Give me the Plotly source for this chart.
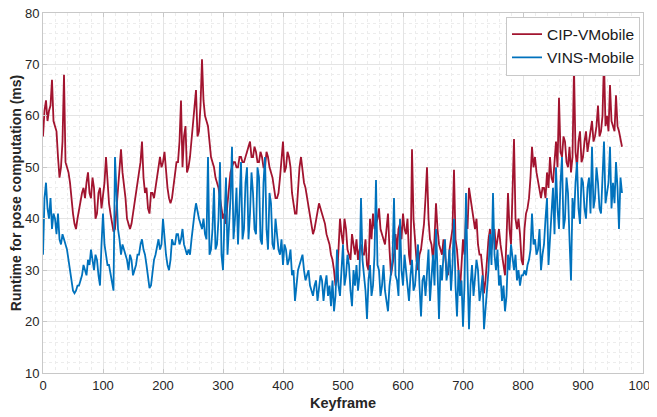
import plotly.graph_objects as go

# Runtime (ms), one reading every 2.5 keyframes
cip_vmobile = [
    56, 61, 63, 59, 61, 62, 67, 59, 58, 57, 52, 48, 50, 55, 68, 51, 50, 49, 47, 43,
    41, 39, 38, 40, 42, 44, 45, 46, 44, 47, 49, 45, 44, 48, 46, 40, 41, 45, 46, 42,
    44, 47, 52, 46, 43, 41, 39, 37.5, 38, 42, 47, 50, 53.5, 49, 47, 44, 40, 39, 38, 39,
    41, 43, 44, 47, 49, 51, 55, 48, 45, 46, 42, 41, 45, 45, 44, 46, 48, 51, 52, 50,
    51, 53, 49, 46, 44, 43, 44, 46, 49, 51, 51, 55, 63, 50, 56, 58, 49, 50, 52, 55,
    58, 62, 65, 56, 57, 62, 71, 63, 60, 59, 58, 55, 52, 51, 50, 48, 47, 46, 44, 42,
    40, 41, 39, 43, 46, 49, 50, 51, 51, 50, 50, 52, 52, 51, 51, 52, 53, 54, 55, 52,
    52, 54, 53, 51, 51, 53, 52, 50, 50, 53, 52, 50, 49, 48, 46, 44, 44, 45, 48, 51,
    55, 49, 50, 53, 52, 50, 45, 43, 41, 41, 47, 50, 52, 49, 47, 46, 44, 43, 41, 39,
    37, 38, 40, 42, 43, 42, 41, 40, 39, 37, 36, 35, 33, 32, 30, 27, 28, 36, 40, 37,
    35, 40, 38, 34, 33, 32, 37, 35, 33, 36, 32, 34, 35, 33, 33, 36, 31, 30, 40, 36,
    41, 38, 39, 40, 42, 38, 37, 36, 35, 38, 41, 34, 29, 31, 33, 37, 34, 38, 39, 36,
    41, 38, 37, 40, 33, 31, 53.5, 40, 35, 32, 30, 33, 34, 37, 39, 44, 50, 40, 36, 35,
    32, 36, 43, 38, 35, 34, 33, 36, 32, 30, 29, 34, 36, 38, 49.5, 36, 34, 30, 26, 31,
    36, 33, 41, 38, 46, 44, 42, 39, 38, 40, 35, 33, 33, 30, 25.5, 28, 33, 36, 38, 34,
    36, 38, 34, 36, 38, 35, 33, 31, 29, 36, 45, 38, 35, 45, 55.5, 40, 38, 40, 37, 32,
    31, 38, 41, 42, 44, 48, 54, 50, 52, 49, 47, 45, 44, 46, 46, 44, 49, 46, 52, 48,
    47, 51, 55, 50, 63.5, 53, 52, 56, 55, 51, 50, 54, 49, 52, 69.5, 53, 50, 55, 57, 51,
    52, 55, 57, 53, 55, 58, 59, 55, 56, 58, 62, 56, 57, 60, 71, 58, 60, 57, 66, 59,
    58, 57, 64, 58, 57, 55, 54,
]

vins_mobile = [
    33, 44, 47, 42, 40, 44, 38, 41, 40, 37, 41, 36, 35, 37, 36, 35, 34, 32, 30, 28,
    26, 25.5, 26, 27, 27, 28, 29, 31, 30, 29, 32, 31, 34, 32, 30, 33, 32, 29, 27, 35,
    41, 35, 33, 31, 31, 29, 27, 26, 52, 44, 38, 36, 33, 35, 34, 33, 32, 30, 33, 32,
    29, 30, 31, 33, 33, 35, 36, 34, 33, 31, 28, 26.5, 27, 30, 32, 33, 35, 36, 34, 35,
    40, 36, 33, 31, 30, 32, 36, 35, 35, 37, 37, 35, 36, 38, 35, 34, 33, 34, 33, 36,
    39, 41, 43, 41, 40, 39, 38, 40, 37, 36, 52, 33, 34, 38, 46, 34, 35, 40, 51, 33,
    30, 40, 48, 33, 38, 44, 54, 36, 40, 46, 35, 44, 51, 36, 38, 47, 50, 36, 41, 49,
    45, 38, 37, 50, 48, 36, 35, 47, 52, 38, 34, 45, 43, 35, 34, 40, 37, 34, 33, 36,
    31, 35, 34, 31, 32, 34, 29, 30, 24, 27, 30, 31, 32, 33, 30, 28, 29, 30, 27, 26,
    25, 27, 28, 24, 26, 29, 28, 24, 27, 29, 25, 27, 23, 28, 22, 25, 34, 27, 25, 31,
    35, 27, 29, 33, 31, 26, 23, 30, 27, 31, 26, 29, 44, 32, 29, 26, 20.5, 28, 31, 25,
    27, 33, 47.5, 31, 30, 25, 27, 31, 26, 24, 22, 27, 29, 32, 44, 29, 28, 25, 40, 30,
    27, 33, 30, 26, 24, 29, 32, 26, 27, 31, 35, 27, 21, 28, 29, 25, 30, 34, 24, 29,
    33, 27, 38, 30, 20.5, 31, 28, 33, 36, 28, 30, 34, 26, 31, 40, 27, 21, 30, 25, 28,
    19, 27, 45, 30, 18.5, 27, 31, 25, 28, 32, 30, 24, 26, 29, 18.5, 22, 26, 30, 37, 31,
    45, 33, 30, 34, 27, 29, 24, 27, 22, 25, 33, 30, 35, 32, 30, 33, 28, 30, 27, 29,
    29, 30, 29, 31, 32, 34, 41, 35, 36, 33, 34, 38, 30, 33, 35, 40, 44, 31, 36, 42,
    46, 37, 50, 42, 38, 47, 52, 38, 40, 48, 45, 36, 28, 44, 40, 47, 51, 42, 39, 48,
    47, 42, 40, 46, 48, 41, 54, 42, 44, 50, 47, 42, 41, 48, 55, 43, 45, 47, 54, 42,
    47, 43, 51, 46, 38, 48, 45,
]

keyframes = [i * 2.5 for i in range(len(cip_vmobile))]

x_ticks = [0, 100, 200, 300, 400, 500, 600, 700, 800, 900, 1000]
y_ticks = [10, 20, 30, 40, 50, 60, 70, 80]

RED = "#A2142F"
BLUE = "#0072BD"
FONT = "Liberation Sans, Arial, sans-serif"

fig = go.Figure()
fig.add_trace(go.Scatter(x=keyframes, y=cip_vmobile, mode="lines", name="CIP-VMobile",
                         line=dict(color=RED, width=1.8)))
fig.add_trace(go.Scatter(x=keyframes, y=vins_mobile, mode="lines", name="VINS-Mobile",
                         line=dict(color=BLUE, width=1.8)))

axis_common = dict(
    showline=True, linecolor="#c8c8c8", linewidth=1, mirror="ticks",
    ticks="inside", ticklen=4, tickcolor="#c8c8c8",
    showgrid=True, gridcolor="#e4e4e4", gridwidth=1,
    zeroline=False, automargin=False, ticklabeloverflow="allow",
    tickfont=dict(family=FONT, size=13, color="#262626"),
)

# the page body adds an 8 px offset, so the figure is sized to fit the window
fig.update_layout(
    width=649, height=409,
    margin=dict(l=35, r=14, t=5, b=44),
    plot_bgcolor="white", paper_bgcolor="white",
    font=dict(family=FONT, color="#262626"),
    showlegend=True,
    legend=dict(x=0.995, y=0.99, xanchor="right", yanchor="top",
                bgcolor="white", bordercolor="#c8c8c8", borderwidth=1,
                font=dict(family=FONT, size=15.5, color="#1a1a1a"),
                tracegroupgap=0, itemwidth=30),
)
fig.update_xaxes(range=[0, 1000], tickvals=x_ticks,
                 title=dict(text="<b>Keyframe</b>", font=dict(family=FONT, size=14.5, color="#262626"), standoff=6),
                 minor=dict(dtick=20, showgrid=True, gridcolor="#ececec", griddash="dot", ticks=""),
                 **axis_common)
fig.update_yaxes(range=[10, 80], tickvals=y_ticks,
                 title=dict(text="<b>Runtime for pose computation (ms)</b>", font=dict(family=FONT, size=14, color="#262626"), standoff=1),
                 minor=dict(dtick=2, showgrid=True, gridcolor="#ececec", griddash="dot", ticks=""),
                 **axis_common)

fig.write_html("out.html")
